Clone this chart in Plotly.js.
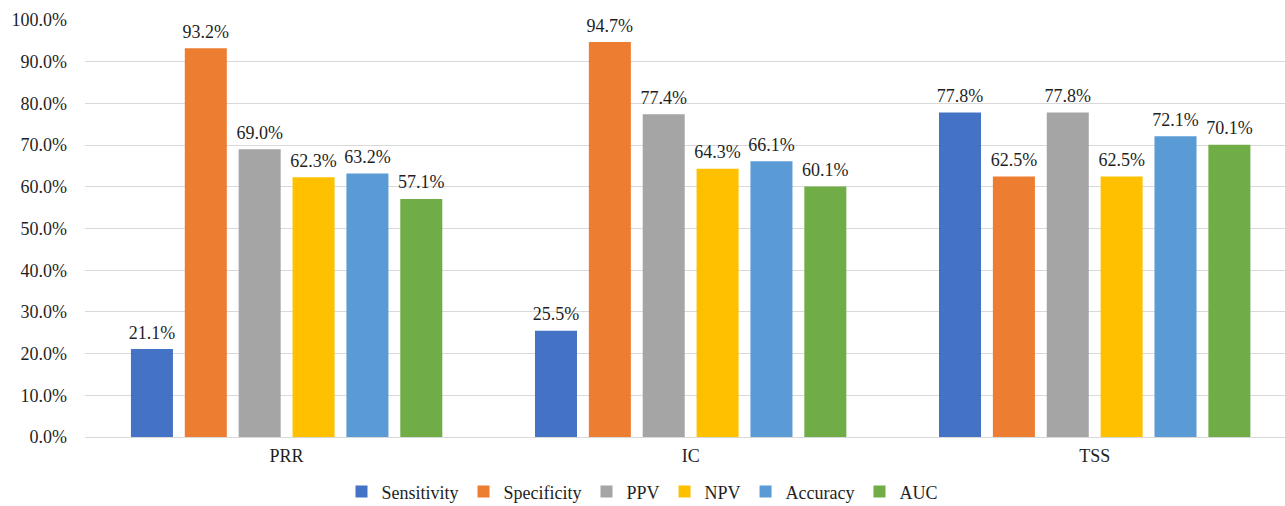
<!DOCTYPE html>
<html>
<head>
<meta charset="utf-8">
<script src="https://cdn.plot.ly/plotly-3.0.1.min.js"></script>
<style>html,body{margin:0;padding:0;background:#fff;}#chart{width:1285px;height:506px;}</style>
</head>
<body>
<div id="chart"></div>
<script>
const categories = ["PRR", "IC", "TSS"];
const seriesNames = ["Sensitivity", "Specificity", "PPV", "NPV", "Accuracy", "AUC"];
const sensitivity = [21.1, 25.5, 77.8];
const specificity = [93.2, 94.7, 62.5];
const ppv = [69.0, 77.4, 77.8];
const npv = [62.3, 64.3, 62.5];
const accuracy = [63.2, 66.1, 72.1];
const auc = [57.1, 60.1, 70.1];
const yTicks = [0, 10, 20, 30, 40, 50, 60, 70, 80, 90, 100];

const seriesValues = [sensitivity, specificity, ppv, npv, accuracy, auc];
const colors = ["#4472C4", "#ED7D31", "#A5A5A5", "#FFC000", "#5B9BD5", "#70AD47"];
const FONT = "'Liberation Serif', 'Times New Roman', Times, serif";
const FS = 18;

const barTraces = seriesNames.map((name, i) => ({
  type: "bar",
  name: name,
  x: categories,
  y: seriesValues[i],
  offsetgroup: name,
  marker: { color: colors[i], line: { width: 0 } },
  hoverinfo: "skip"
}));

const labelTraces = seriesNames.map((name, i) => ({
  type: "scatter",
  mode: "markers+text",
  name: name + " label",
  showlegend: false,
  x: categories,
  y: seriesValues[i],
  offsetgroup: name,
  marker: { size: 8, opacity: 0, color: colors[i] },
  texttemplate: "%{y:.1f}%",
  textposition: "top center",
  textfont: { family: FONT, size: FS, color: "#1f1f1f" },
  cliponaxis: false,
  hoverinfo: "skip"
}));

const layout = {
  width: 1285,
  height: 506,
  margin: { l: 85, r: 0, t: 20, b: 69 },
  paper_bgcolor: "#fff",
  plot_bgcolor: "#fff",
  barmode: "group",
  bargap: 0.2,
  bargroupgap: 0.22,
  scattermode: "group",
  scattergap: 0.2,
  font: { family: FONT, size: FS, color: "#1f1f1f" },
  xaxis: {
    range: [-0.499, 2.471],
    showgrid: false,
    showline: false,
    ticks: "",
    ticklabelstandoff: 6,
    tickfont: { family: FONT, size: FS, color: "#1f1f1f" },
    fixedrange: true
  },
  yaxis: {
    range: [0, 100],
    tickvals: yTicks,
    ticktext: yTicks.map(v => v.toFixed(1) + "%"),
    showgrid: true,
    gridcolor: "#d9d9d9",
    gridwidth: 1,
    zeroline: true,
    zerolinecolor: "#d9d9d9",
    zerolinewidth: 1,
    showline: false,
    ticks: "",
    ticklabelstandoff: 17,
    tickfont: { family: FONT, size: FS, color: "#1f1f1f" },
    fixedrange: true
  },
  showlegend: true,
  legend: {
    orientation: "h",
    x: 0.5,
    xanchor: "center",
    xref: "container",
    yref: "container",
    y: 0.028,
    yanchor: "middle",
    font: { family: FONT, size: FS, color: "#1f1f1f" },
    itemwidth: 30,
    tracegroupgap: 0
  }
};

Plotly.newPlot("chart", barTraces.concat(labelTraces), layout, { staticPlot: true, displayModeBar: false });
</script>
</body>
</html>
